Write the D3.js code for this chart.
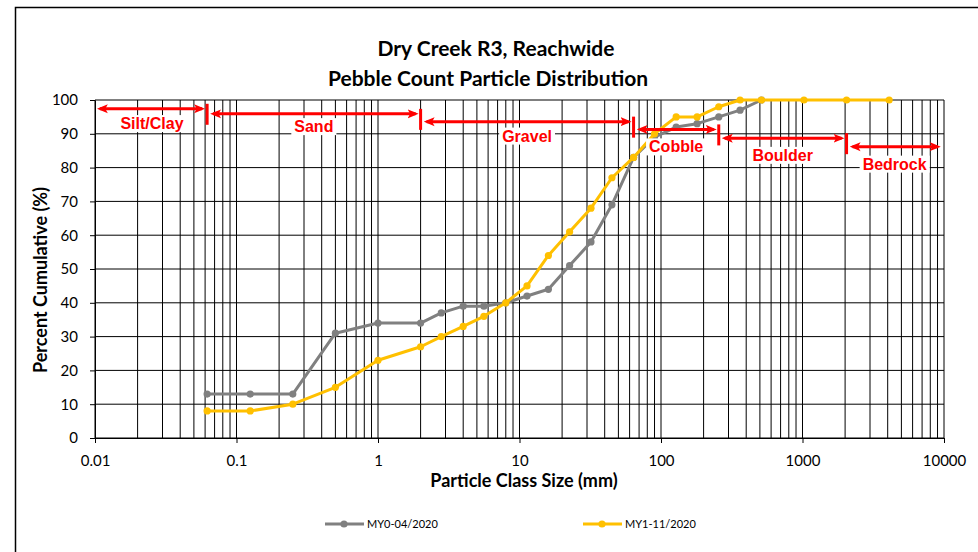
<!DOCTYPE html>
<html>
<head>
<meta charset="utf-8">
<title>Dry Creek R3, Reachwide</title>
<script src="https://d3js.org/d3.v7.min.js"></script>
<style>
  body { margin: 0; background: #fff; }
  .grid line { stroke: #000; stroke-width: 1; }
  .axis text { font-family: Lato, sans-serif; font-size: 15px; fill: #000; }
  .axis path, .axis line { stroke: #000; stroke-width: 1; }
  .title { font-family: Lato, sans-serif; font-weight: bold; font-size: 21px; fill: #000; }
  .axis-title { font-family: Lato, sans-serif; font-weight: bold; font-size: 18px; fill: #000; }
  .legend text { font-family: Lato, sans-serif; font-size: 11px; fill: #000; }
  .zone-label { font-family: "Liberation Sans", Arial, sans-serif; font-weight: bold; font-size: 16px; fill: #ff0000; }
</style>
</head>
<body>
<div id="chart"></div>
<script>
// particle class sizes (mm) and cumulative percent for each survey
const sizes = [0.062, 0.125, 0.25, 0.5, 1, 2, 2.8, 4, 5.6, 8, 11.3, 16, 22.6, 32, 45, 64,
               90, 128, 180, 256, 362, 512, 1024, 2048, 4096];
const my0 = [13, 13, 13, 31, 34, 34, 37, 39, 39, 40, 42, 44, 51, 58, 69, 83,
             89, 92, 93, 95, 97, 100, null, null, null];
const my1 = [8, 8, 10, 15, 23, 27, 30, 33, 36, 40, 45, 54, 61, 68, 77, 83,
             90, 95, 95, 98, 100, 100, 100, 100, 100];
const seriesNames = ["MY0-04/2020", "MY1-11/2020"];

// size class annotation arrows: name, from (mm), to (mm), arrow level (%), label level (%)
const zoneNames = ["Silt/Clay", "Sand", "Gravel", "Cobble", "Boulder", "Bedrock"];
const zoneFrom = [0.0103, 0.062, 2, 64, 256, 2048];
const zoneTo = [0.062, 2, 64, 256, 2048, 9800];
const zoneLevel = [97.4, 95.9, 93.6, 91.3, 88.7, 86.2];
const zoneLabelLevel = [93.1, 92.2, 89.4, 86.2, 83.7, 81.1];

const yTicks = d3.range(0, 101, 10);
const xMajor = [0.01, 0.1, 1, 10, 100, 1000, 10000];

const W = 978, H = 552;
const margin = { top: 100, right: 34, bottom: 114, left: 95 },
      width = W - margin.left - margin.right,
      height = H - margin.top - margin.bottom;

const svgRoot = d3.select("#chart").append("svg")
  .attr("width", W).attr("height", H);

// chart frame
svgRoot.append("rect")
  .attr("x", 15.5).attr("y", 7.5)
  .attr("width", W).attr("height", H)
  .attr("fill", "#fff").attr("stroke", "#000").attr("stroke-width", 1.5);

const defs = svgRoot.append("defs");
defs.append("marker")
  .attr("id", "arrow")
  .attr("viewBox", "0 -5 11 10")
  .attr("refX", 8).attr("refY", 0)
  .attr("markerUnits", "userSpaceOnUse")
  .attr("markerWidth", 11).attr("markerHeight", 10)
  .attr("orient", "auto-start-reverse")
  .append("path")
  .attr("d", "M0,-4.5L11,0L0,4.5L2.5,0Z")
  .attr("fill", "#ff0000");

const svg = svgRoot.append("g")
  .attr("transform", `translate(${margin.left},${margin.top})`);

const x = d3.scaleLog().domain([0.01, 10000]).range([0, width]);
const y = d3.scaleLinear().domain([0, 100]).range([height, 0]);

// vertical log gridlines (1..9 per decade)
svg.append("g").attr("class", "grid")
  .selectAll("line")
  .data(x.ticks())
  .enter().append("line")
  .attr("x1", d => x(d)).attr("x2", d => x(d))
  .attr("y1", 0).attr("y2", height);

// horizontal gridlines
svg.append("g").attr("class", "grid")
  .selectAll("line")
  .data(yTicks)
  .enter().append("line")
  .attr("x1", 0).attr("x2", width)
  .attr("y1", d => y(d)).attr("y2", d => y(d));

// axes
svg.append("g").attr("class", "axis")
  .attr("transform", `translate(0,${height})`)
  .call(d3.axisBottom(x).tickValues(xMajor).tickFormat(d3.format("")).tickSize(5).tickSizeOuter(0).tickPadding(12));

svg.append("g").attr("class", "axis")
  .call(d3.axisLeft(y).tickValues(yTicks).tickSize(5).tickSizeOuter(0).tickPadding(12));

// series
const colors = ["#808080", "#ffc000"];
[my0, my1].forEach((vals, i) => {
  const pts = sizes.map((s, j) => ({ s, v: vals[j] })).filter(d => d.v != null);
  svg.append("path")
    .datum(pts)
    .attr("fill", "none")
    .attr("stroke", colors[i])
    .attr("stroke-width", 3)
    .attr("stroke-linejoin", "round")
    .attr("d", d3.line().x(d => x(d.s)).y(d => y(d.v)));
  svg.append("g").selectAll("circle")
    .data(pts)
    .enter().append("circle")
    .attr("cx", d => x(d.s)).attr("cy", d => y(d.v))
    .attr("r", 3.6)
    .attr("fill", colors[i]);
});

// size class arrows
const zones = zoneNames.map((n, i) => ({
  name: n, from: zoneFrom[i], to: zoneTo[i], level: zoneLevel[i], labelLevel: zoneLabelLevel[i]
}));
const zg = svg.append("g");
zones.forEach((z, i) => {
  const x0 = x(z.from) + (i === 0 ? 0 : 3), x1 = x(z.to) - 2, yy = y(z.level);
  zg.append("line")
    .attr("x1", x0 + 3).attr("x2", x1 - 3)
    .attr("y1", yy).attr("y2", yy)
    .attr("stroke", "#ff0000").attr("stroke-width", 3)
    .attr("marker-start", "url(#arrow)")
    .attr("marker-end", "url(#arrow)");
  if (i < zones.length - 1) {
    zg.append("line")
      .attr("x1", x(z.to)).attr("x2", x(z.to))
      .attr("y1", yy - 5).attr("y2", yy + 16)
      .attr("stroke", "#ff0000").attr("stroke-width", 3);
  }
  const cx = x(Math.sqrt(z.from * z.to));
  const t = zg.append("text")
    .attr("class", "zone-label")
    .attr("x", cx).attr("y", y(z.labelLevel))
    .attr("dy", "0.36em")
    .attr("text-anchor", "middle")
    .text(z.name);
  const bb = t.node().getBBox();
  zg.insert("rect", () => t.node())
    .attr("x", bb.x - 3).attr("y", bb.y)
    .attr("width", bb.width + 6).attr("height", bb.height)
    .attr("fill", "#fff");
});

// titles
svgRoot.append("text").attr("class", "title")
  .attr("x", 496).attr("y", 56).attr("text-anchor", "middle")
  .text("Dry Creek R3, Reachwide");
svgRoot.append("text").attr("class", "title")
  .attr("x", 488).attr("y", 86).attr("text-anchor", "middle")
  .text("Pebble Count Particle Distribution");

svgRoot.append("text").attr("class", "axis-title")
  .attr("x", 524).attr("y", 487).attr("text-anchor", "middle")
  .text("Particle Class Size (mm)");
svgRoot.append("text").attr("class", "axis-title")
  .attr("transform", "translate(47,280) rotate(-90)")
  .attr("text-anchor", "middle")
  .text("Percent Cumulative (%)");

// legend
const legendX = [325, 583];
const lg = svgRoot.append("g").attr("class", "legend");
seriesNames.forEach((n, i) => {
  const lx = legendX[i], ly = 524;
  lg.append("line")
    .attr("x1", lx).attr("x2", lx + 39)
    .attr("y1", ly).attr("y2", ly)
    .attr("stroke", colors[i]).attr("stroke-width", 3);
  lg.append("circle")
    .attr("cx", lx + 19).attr("cy", ly).attr("r", 3.6)
    .attr("fill", colors[i]);
  lg.append("text")
    .attr("x", lx + 42).attr("y", ly).attr("dy", "0.35em")
    .text(n);
});
</script>
</body>
</html>
